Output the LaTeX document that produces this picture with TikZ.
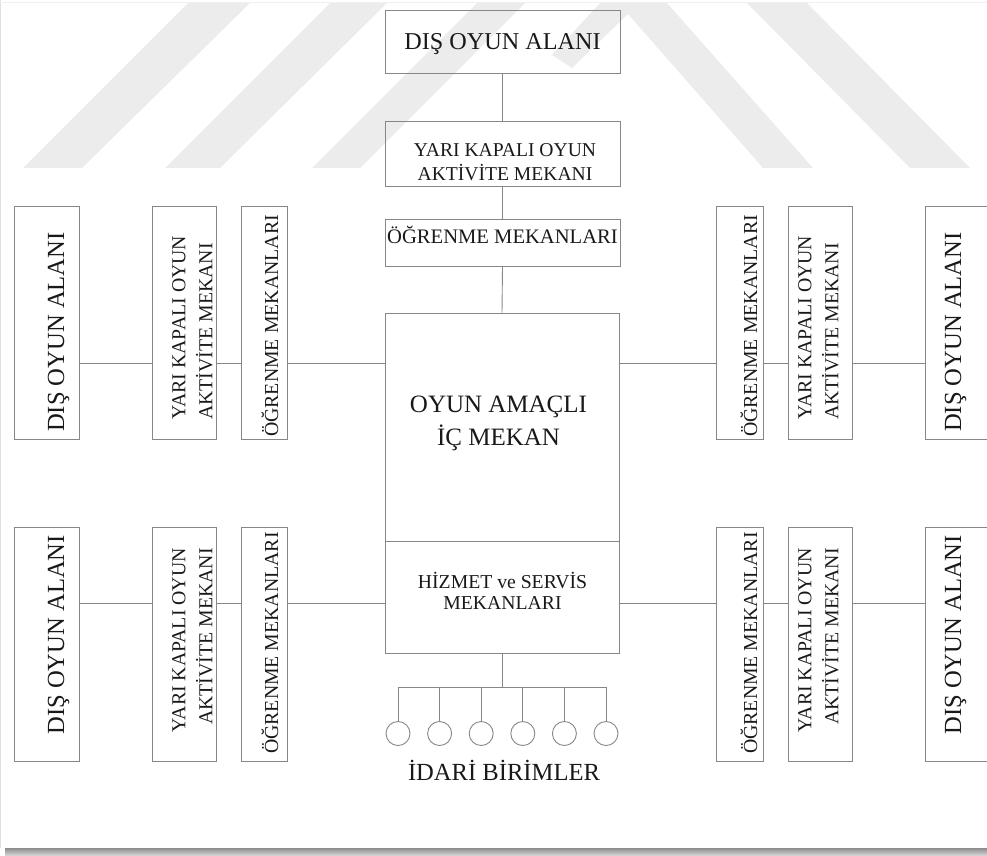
\documentclass[tikz,border=0pt]{standalone}
\usepackage{fontspec}
\setmainfont{Liberation Serif}
\definecolor{wm}{RGB}{236,236,236}
\definecolor{ln}{RGB}{135,135,135}
\definecolor{tx}{RGB}{25,25,25}
\begin{document}
\begin{tikzpicture}[x=1pt,y=-1pt,
  box/.style={draw=ln,line width=0.9pt,inner sep=0pt,rectangle},
  conn/.style={draw=ln,line width=0.9pt},
  lbl/.style={text=tx,inner sep=0pt},
  big/.style={font=\fontsize{24.6}{29}\selectfont},
  mid/.style={font=\fontsize{19.8}{27}\selectfont},
  unit/.style={draw=ln,line width=0.9pt,circle,minimum size=24pt,inner sep=0pt}]
\useasboundingbox (0,0) rectangle (987,855);
% watermark
\fill[wm] (188,3) -- (250,3) -- (82,168) -- (23,168) -- cycle;
\fill[wm] (330,3) -- (387,3) -- (220,168) -- (165,168) -- cycle;
\fill[wm] (477,3) -- (525,3) -- (360,168) -- (312,168) -- cycle;
\fill[wm] (600,3) -- (667,3) -- (813,168) -- (763,168) -- (628,14) -- (572,68) -- (552,55) -- cycle;
\fill[wm] (747,3) -- (807,3) -- (970,168) -- (910,168) -- cycle;
% page edges
\draw[gray!25,line width=0.8pt] (0.5,0) -- (0.5,848);
\draw[gray!12,line width=0.8pt] (0,2) -- (987,2);
\shade[top color=gray!90,bottom color=gray!35] (5,848) rectangle (987,855);
% central column
\node[box,minimum width=235pt,minimum height=63pt] (dtop) at (502.5,41.5) {};
\node[box,minimum width=235pt,minimum height=65pt] (ytop) at (502.5,153.5) {};
\node[box,minimum width=235pt,minimum height=47pt] (otop) at (502.5,242.5) {};
\node[box,minimum width=234pt,minimum height=228pt] (oyun) at (502,427) {};
\node[box,minimum width=234pt,minimum height=112pt] (hiz) at (502,597) {};
\node[lbl,big,anchor=base,font=\fontsize{24.2}{29}\selectfont] (dtopT) at (502.5,49.5) {DIŞ OYUN ALANI};
\node[lbl,align=center,font=\fontsize{19.6}{24}\selectfont] (ytopT) at (505,162.5) {YARI KAPALI OYUN\\AKTİVİTE MEKANI};
\node[lbl,anchor=base,font=\fontsize{20.6}{24}\selectfont] (otopT) at (502.5,243) {ÖĞRENME MEKANLARI};
\node[lbl,align=center,font=\fontsize{25}{33}\selectfont] (oyunT) at (498.5,423) {OYUN AMAÇLI\\İÇ MEKAN};
\node[lbl,align=center,font=\fontsize{19.7}{21.5}\selectfont] (hizT) at (502.5,591) {HİZMET ve SERVİS\\MEKANLARI};
% side boxes, top row
\node[box,minimum width=233pt,minimum height=65pt,rotate=90] (dL1) at (46.5,322.5) {};
\node[box,minimum width=233pt,minimum height=64pt,rotate=90] (yL1) at (184,322.5) {};
\node[box,minimum width=233pt,minimum height=46pt,rotate=90] (oL1) at (264,322.5) {};
\node[box,minimum width=233pt,minimum height=47pt,rotate=90] (oR1) at (739.5,322.5) {};
\node[box,minimum width=233pt,minimum height=64pt,rotate=90] (yR1) at (820,322.5) {};
\node[box,minimum width=233pt,minimum height=63pt,rotate=90] (dR1) at (956.5,322.5) {};
% side boxes, bottom row
\node[box,minimum width=234pt,minimum height=65pt,rotate=90] (dL2) at (46.5,644) {};
\node[box,minimum width=234pt,minimum height=64pt,rotate=90] (yL2) at (184,644) {};
\node[box,minimum width=234pt,minimum height=46pt,rotate=90] (oL2) at (264,644) {};
\node[box,minimum width=234pt,minimum height=47pt,rotate=90] (oR2) at (739.5,644) {};
\node[box,minimum width=234pt,minimum height=64pt,rotate=90] (yR2) at (820,644) {};
\node[box,minimum width=234pt,minimum height=63pt,rotate=90] (dR2) at (956.5,644) {};
% rotated labels, top row (start aligned at bottom)
\node[lbl,big,rotate=90,anchor=base west] (dL1T) at (64,432) {DIŞ OYUN ALANI};
\node[lbl,mid,rotate=90,anchor=west,align=left] (yL1T) at (192.5,420) {YARI KAPALI OYUN\\AKTİVİTE MEKANI};
\node[lbl,mid,rotate=90,anchor=base west] (oL1T) at (278,437) {ÖĞRENME MEKANLARI};
\node[lbl,mid,rotate=90,anchor=base west] (oR1T) at (757,437) {ÖĞRENME MEKANLARI};
\node[lbl,mid,rotate=90,anchor=west,align=left] (yR1T) at (818.5,420) {YARI KAPALI OYUN\\AKTİVİTE MEKANI};
\node[lbl,big,rotate=90,anchor=base west] (dR1T) at (961,432) {DIŞ OYUN ALANI};
% rotated labels, bottom row (end aligned at top)
\node[lbl,big,rotate=90,anchor=base east] (dL2T) at (64,535) {DIŞ OYUN ALANI};
\node[lbl,mid,rotate=90,anchor=east,align=right] (yL2T) at (192.5,548) {YARI KAPALI OYUN\\AKTİVİTE MEKANI};
\node[lbl,mid,rotate=90,anchor=base east] (oL2T) at (278,532) {ÖĞRENME MEKANLARI};
\node[lbl,mid,rotate=90,anchor=base east] (oR2T) at (757,532) {ÖĞRENME MEKANLARI};
\node[lbl,mid,rotate=90,anchor=east,align=right] (yR2T) at (818.5,548) {YARI KAPALI OYUN\\AKTİVİTE MEKANI};
\node[lbl,big,rotate=90,anchor=base east] (dR2T) at (961,535) {DIŞ OYUN ALANI};
% row lines
\coordinate (rowA) at (0,363);
\coordinate (rowB) at (0,603);
\draw[conn] (dtop.south) -- (ytop.north);
\draw[conn] (ytop.south) -- (otop.north);
\draw[conn] (otop.south) -- (oyun.north);
\draw[conn] (dL1.south|-rowA) -- (yL1.north|-rowA);
\draw[conn] (yL1.south|-rowA) -- (oL1.north|-rowA);
\draw[conn] (oL1.south|-rowA) -- (oyun.west|-rowA);
\draw[conn] (oyun.east|-rowA) -- (oR1.north|-rowA);
\draw[conn] (oR1.south|-rowA) -- (yR1.north|-rowA);
\draw[conn] (yR1.south|-rowA) -- (dR1.north|-rowA);
\draw[conn] (dL2.south|-rowB) -- (yL2.north|-rowB);
\draw[conn] (yL2.south|-rowB) -- (oL2.north|-rowB);
\draw[conn] (oL2.south|-rowB) -- (hiz.west|-rowB);
\draw[conn] (hiz.east|-rowB) -- (oR2.north|-rowB);
\draw[conn] (oR2.south|-rowB) -- (yR2.north|-rowB);
\draw[conn] (yR2.south|-rowB) -- (dR2.north|-rowB);
% administrative units
\foreach \i in {1,...,6} {
  \node[unit] (u\i) at ({398+41.6*(\i-1)},733.5) {};
}
\coordinate (bar) at (0,687);
\draw[conn] (hiz.south) -- (hiz.south|-bar);
\draw[conn] (u1.north|-bar) -- (u6.north|-bar);
\foreach \i in {1,...,6} {
  \draw[conn] (u\i.north|-bar) -- (u\i.north);
}
\node[lbl,big,anchor=base] (idari) at (504,780) {İDARİ BİRİMLER};
\end{tikzpicture}
\end{document}
